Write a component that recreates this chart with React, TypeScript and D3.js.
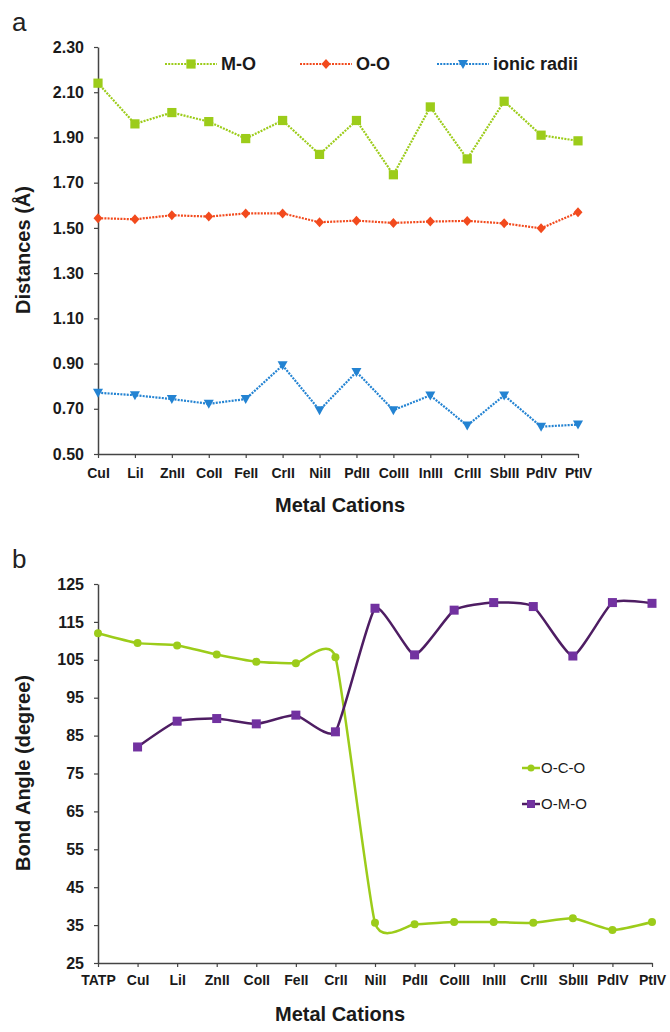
import React, { useEffect, useRef } from "react";
import * as d3 from "d3";

// panel a
const cationsA = ["CuI", "LiI", "ZnII", "CoII", "FeII", "CrII", "NiII", "PdII", "CoIII", "InIII", "CrIII", "SbIII", "PdIV", "PtIV"];
const moValues = [2.14, 1.96, 2.01, 1.97, 1.895, 1.975, 1.825, 1.975, 1.735, 2.035, 1.805, 2.06, 1.91, 1.885];
const ooValues = [1.543, 1.538, 1.556, 1.55, 1.564, 1.564, 1.525, 1.532, 1.522, 1.528, 1.531, 1.52, 1.498, 1.569];
const ionicValues = [0.771, 0.76, 0.743, 0.722, 0.743, 0.892, 0.694, 0.863, 0.694, 0.759, 0.626, 0.759, 0.621, 0.63];
const ticksA = [0.5, 0.7, 0.9, 1.1, 1.3, 1.5, 1.7, 1.9, 2.1, 2.3];

// panel b
const cationsB = ["TATP", "CuI", "LiI", "ZnII", "CoII", "FeII", "CrII", "NiII", "PdII", "CoIII", "InIII", "CrIII", "SbIII", "PdIV", "PtIV"];
const ocoValues = [112.0, 109.4, 108.8, 106.4, 104.5, 104.1, 105.7, 35.6, 35.2, 35.8, 35.8, 35.6, 36.8, 33.7, 35.8];
const omoValues = [null, 82.0, 88.8, 89.5, 88.1, 90.4, 86.0, 118.6, 106.3, 118.1, 120.1, 119.05, 106.0, 120.1, 119.9];
const ticksB = [25, 35, 45, 55, 65, 75, 85, 95, 105, 115, 125];

const FONT = "'Liberation Sans', Arial, sans-serif";
const GREEN = "#9ccc1a";
const RED = "#f24a1d";
const BLUE = "#2383d2";
const PURPLE = "#7232a0";
const PURPLE_LINE = "#4e1d63";
const AXIS = "#444";

const styleAxis = (g: any, size: number) => {
  g.select(".domain").attr("stroke", AXIS).attr("stroke-width", 1.5);
  g.selectAll(".tick line").attr("stroke", AXIS).attr("stroke-width", 1.2);
  g.selectAll("text")
    .attr("fill", "#1a1a1a")
    .style("font-family", FONT)
    .style("font-weight", "bold")
    .style("font-size", size + "px");
};

export default function App() {
  const ref = useRef(null);

  useEffect(() => {
    const svg = d3.select(ref.current);
    svg.selectAll("*").remove();

    // ---------- panel a ----------
    const xA = d3.scalePoint<string>().domain(cationsA).range([98, 578]).padding(0);
    const yA = d3.scaleLinear().domain([0.5, 2.3]).range([454, 47]);

    svg.append("text").attr("x", 12).attr("y", 31).text("a")
      .style("font-family", FONT).style("font-size", "26px").attr("fill", "#222");

    const axLeftA = svg.append("g").attr("transform", "translate(98,0)")
      .call(d3.axisLeft(yA).tickValues(ticksA).tickFormat(d3.format(".2f")).tickSize(4).tickSizeOuter(0).tickPadding(10));
    styleAxis(axLeftA, 16);

    const axBotA = svg.append("g").attr("transform", "translate(0,454)")
      .call(d3.axisBottom(xA).tickSize(4).tickSizeOuter(0).tickPadding(10));
    styleAxis(axBotA, 14);

    svg.append("text").attr("x", 340).attr("y", 512).attr("text-anchor", "middle")
      .text("Metal Cations").style("font-family", FONT).style("font-weight", "bold")
      .style("font-size", "20px").attr("fill", "#1a1a1a");
    svg.append("text").attr("transform", "translate(30,250) rotate(-90)").attr("text-anchor", "middle")
      .text("Distances (Å)").style("font-family", FONT).style("font-weight", "bold")
      .style("font-size", "20px").attr("fill", "#1a1a1a");

    const lineA = d3.line<number>().x((_, i) => xA(cationsA[i]) as number).y((d) => yA(d));

    const seriesA = [
      { values: moValues, color: GREEN, marker: "square" },
      { values: ooValues, color: RED, marker: "diamond" },
      { values: ionicValues, color: BLUE, marker: "triangle" },
    ];

    const markerPath = (kind: string) => {
      if (kind === "square") return d3.symbol().type(d3.symbolSquare).size(85)();
      if (kind === "diamond") return "M0,-5L4.5,0L0,5L-4.5,0Z";
      return "M-5,-4L5,-4L0,5Z";
    };

    seriesA.forEach((s) => {
      svg.append("path").attr("d", lineA(s.values)).attr("fill", "none")
        .attr("stroke", s.color).attr("stroke-width", 2.2).attr("stroke-dasharray", "2,1.2");
      svg.append("g").selectAll("path").data(s.values).join("path")
        .attr("transform", (d, i) => `translate(${xA(cationsA[i])},${yA(d)})`)
        .attr("d", markerPath(s.marker)).attr("fill", s.color);
    });

    // legend a
    const legendA = [
      { label: "M-O", color: GREEN, marker: "square", x: 165 },
      { label: "O-O", color: RED, marker: "diamond", x: 300 },
      { label: "ionic radii", color: BLUE, marker: "triangle", x: 437 },
    ];
    legendA.forEach((l) => {
      const g = svg.append("g").attr("transform", `translate(${l.x},64)`);
      g.append("line").attr("x1", 0).attr("x2", 52).attr("stroke", l.color)
        .attr("stroke-width", 2.2).attr("stroke-dasharray", "2,1.2");
      g.append("path").attr("transform", "translate(26,0)").attr("d", markerPath(l.marker)).attr("fill", l.color);
      g.append("text").attr("x", 56).attr("y", 6).text(l.label)
        .style("font-family", FONT).style("font-weight", "bold").style("font-size", "18px").attr("fill", "#1a1a1a");
    });

    // ---------- panel b ----------
    const xB = d3.scalePoint<string>().domain(cationsB).range([98, 652]).padding(0);
    const yB = d3.scaleLinear().domain([25, 125]).range([963, 584]);

    svg.append("text").attr("x", 12).attr("y", 568).text("b")
      .style("font-family", FONT).style("font-size", "26px").attr("fill", "#222");

    const axLeftB = svg.append("g").attr("transform", "translate(98,0)")
      .call(d3.axisLeft(yB).tickValues(ticksB).tickSize(4).tickSizeOuter(0).tickPadding(10));
    styleAxis(axLeftB, 16);

    const axBotB = svg.append("g").attr("transform", "translate(0,963)")
      .call(d3.axisBottom(xB).tickSize(4).tickSizeOuter(0).tickPadding(8));
    styleAxis(axBotB, 14);

    svg.append("text").attr("x", 340).attr("y", 1021).attr("text-anchor", "middle")
      .text("Metal Cations").style("font-family", FONT).style("font-weight", "bold")
      .style("font-size", "20px").attr("fill", "#1a1a1a");
    svg.append("text").attr("transform", "translate(30,773) rotate(-90)").attr("text-anchor", "middle")
      .text("Bond Angle (degree)").style("font-family", FONT).style("font-weight", "bold")
      .style("font-size", "20px").attr("fill", "#1a1a1a");

    const lineB = d3.line<number | null>()
      .defined((d) => d !== null)
      .curve(d3.curveCardinal.tension(0.5))
      .x((_, i) => xB(cationsB[i]) as number)
      .y((d) => yB(d as number));

    svg.append("path").attr("d", lineB(ocoValues)).attr("fill", "none")
      .attr("stroke", GREEN).attr("stroke-width", 2.5);
    svg.append("g").selectAll("circle").data(ocoValues).join("circle")
      .attr("cx", (_, i) => xB(cationsB[i]) as number).attr("cy", (d) => yB(d))
      .attr("r", 4).attr("fill", GREEN);

    const omoPts = omoValues.map((v, i) => ({ v, c: cationsB[i] })).filter((p) => p.v !== null);
    svg.append("path").attr("d", lineB(omoValues)).attr("fill", "none")
      .attr("stroke", PURPLE_LINE).attr("stroke-width", 2.5);
    svg.append("g").selectAll("rect").data(omoPts).join("rect")
      .attr("x", (p) => (xB(p.c) as number) - 4.5).attr("y", (p) => yB(p.v as number) - 4.5)
      .attr("width", 9).attr("height", 9).attr("fill", PURPLE);

    // legend b
    const lg1 = svg.append("g").attr("transform", "translate(522,768)");
    lg1.append("line").attr("x1", 0).attr("x2", 18).attr("stroke", GREEN).attr("stroke-width", 2.5);
    lg1.append("circle").attr("cx", 9).attr("r", 3.5).attr("fill", GREEN);
    lg1.append("text").attr("x", 19).attr("y", 5).text("O-C-O")
      .style("font-family", FONT).style("font-size", "15px").attr("fill", "#1a1a1a");

    const lg2 = svg.append("g").attr("transform", "translate(522,804)");
    lg2.append("line").attr("x1", 0).attr("x2", 18).attr("stroke", PURPLE_LINE).attr("stroke-width", 2.5);
    lg2.append("rect").attr("x", 5).attr("y", -4).attr("width", 8).attr("height", 8).attr("fill", PURPLE);
    lg2.append("text").attr("x", 19).attr("y", 5).text("O-M-O")
      .style("font-family", FONT).style("font-size", "15px").attr("fill", "#1a1a1a");
  }, []);

  return (
    <div style={{ position: "absolute", left: 0, top: 0 }}>
      <svg ref={ref} width={670} height={1032} style={{ display: "block", background: "#fff" }} />
    </div>
  );
}
